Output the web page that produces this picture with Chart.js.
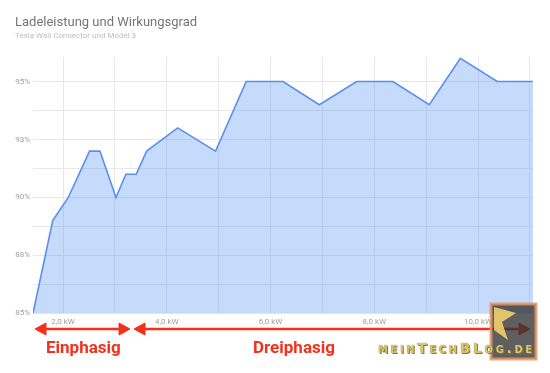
<!DOCTYPE html>
<html lang="de">
  <head>
    <meta charset="UTF-8" />
    <title>Ladeleistung und Wirkungsgrad</title>
    <script src="https://cdn.jsdelivr.net/npm/chart.js@4"></script>
    <style>
      html, body { margin: 0; padding: 0; background: #fff; }
      #wrap { position: relative; width: 550px; height: 373px; overflow: hidden; }
      #chart { position: absolute; left: 0; top: 0; }
      .phase {
        position: absolute; font-family: Roboto, sans-serif; font-weight: bold;
        font-size: 17px; color: #f5301a; line-height: 1;
      }
      #logoText {
        position: absolute; left: 378px; top: 341px; font-family: "DejaVu Sans", sans-serif;
        font-weight: bold; font-size: 14px; line-height: 1; letter-spacing: 2.6px;
        font-variant: small-caps; color: #dcc46a;
        text-shadow: 0 0 1px #6a5a30, 1px 1px 0 #8a7a40;
      }
      #overlay { position: absolute; left: 0; top: 0; }
    </style>
  </head>
  <body>
    <div id="wrap">
      <canvas id="chart" width="550" height="373"></canvas>
      <svg id="overlay" width="550" height="373">
        <g fill="#f5301a" stroke="#f5301a">
          <line x1="44" y1="329" x2="121" y2="329" stroke-width="2.5" />
          <polygon points="35,329 46,323 46,335" />
          <polygon points="130,329 119,323 119,335" />
          <line x1="143" y1="329" x2="520" y2="329" stroke-width="2.5" />
          <polygon points="134,329 145,323 145,335" />
          <polygon points="530,329 519,323 519,335" />
        </g>
        <rect x="491" y="304" width="45" height="55" fill="rgba(50,50,50,0.78)" stroke="rgba(228,150,100,0.85)" stroke-width="3" />
        <polygon points="494,307 516,313 502,322 508,340 494,330" fill="rgba(250,215,110,0.85)" />
      </svg>
      <div class="phase" style="left:46px; top:339px;">Einphasig</div>
      <div class="phase" style="left:253px; top:339px;">Dreiphasig</div>
      <div id="logoText">meinTechBLog.de</div>
    </div>
    <script>
      // Ladeleistung in kW und Wirkungsgrad in %
      const power = [1.42, 1.8, 2.1, 2.51, 2.71, 3.02, 3.21, 3.41, 3.61, 4.21, 4.94, 5.53, 6.24, 6.94, 7.66, 8.36, 9.06, 9.66, 10.37, 11.06];
      const efficiency = [85, 89, 90, 92, 92, 90, 91, 91, 92, 93, 92, 95, 95, 94, 95, 95, 94, 96, 95, 95];
      const yTicks = [85, 87.5, 90, 92.5, 95];
      const xTicks = [2, 4, 6, 8, 10];

      const points = power.map((p, i) => ({ x: p, y: efficiency[i] }));

      new Chart(document.getElementById("chart"), {
        type: "line",
        data: {
          datasets: [
            {
              data: points,
              borderColor: "#5a8ff0",
              borderWidth: 1.6,
              backgroundColor: "rgba(66,133,244,0.3)",
              fill: "origin",
              pointRadius: 0,
              tension: 0,
            },
          ],
        },
        options: {
          responsive: false,
          animation: false,
          layout: { padding: { left: 15, right: 17, top: 0, bottom: 42 } },
          plugins: {
            legend: { display: false },
            tooltip: { enabled: false },
            title: {
              display: true,
              text: "Ladeleistung und Wirkungsgrad",
              align: "start",
              color: "#757575",
              font: { family: "Roboto", size: 13, weight: "normal" },
              padding: { top: 15, bottom: 1 },
            },
            subtitle: {
              display: true,
              text: "Tesla Wall Connector und Model 3",
              align: "start",
              color: "#bdbdbd",
              font: { family: "Roboto", size: 8, weight: "normal" },
              padding: { top: 0, bottom: 16 },
            },
          },
          scales: {
            x: {
              type: "linear",
              min: power[0],
              max: power[power.length - 1],
              grid: { color: "#e8e8e8", drawTicks: false },
              border: { display: false },
              ticks: {
                stepSize: 1,
                includeBounds: false,
                autoSkip: false,
                maxRotation: 0,
                padding: 4,
                color: "#9e9e9e",
                font: { family: "Roboto", size: 8 },
                callback: (v) => (xTicks.includes(v) ? v.toFixed(1).replace(".", ",") + " kW" : ""),
              },
            },
            y: {
              min: 85,
              max: 96.05,
              afterFit: (s) => { s.width = 18; },
              grid: { color: "#e8e8e8", drawTicks: false },
              border: { display: false },
              ticks: {
                stepSize: 1.25,
                includeBounds: false,
                autoSkip: false,
                padding: 3,
                color: "#9e9e9e",
                font: { family: "Roboto", size: 8 },
                callback: (v) => (yTicks.includes(v) ? Math.round(v) + "%" : ""),
              },
            },
          },
        },
      });
    </script>
  </body>
</html>
